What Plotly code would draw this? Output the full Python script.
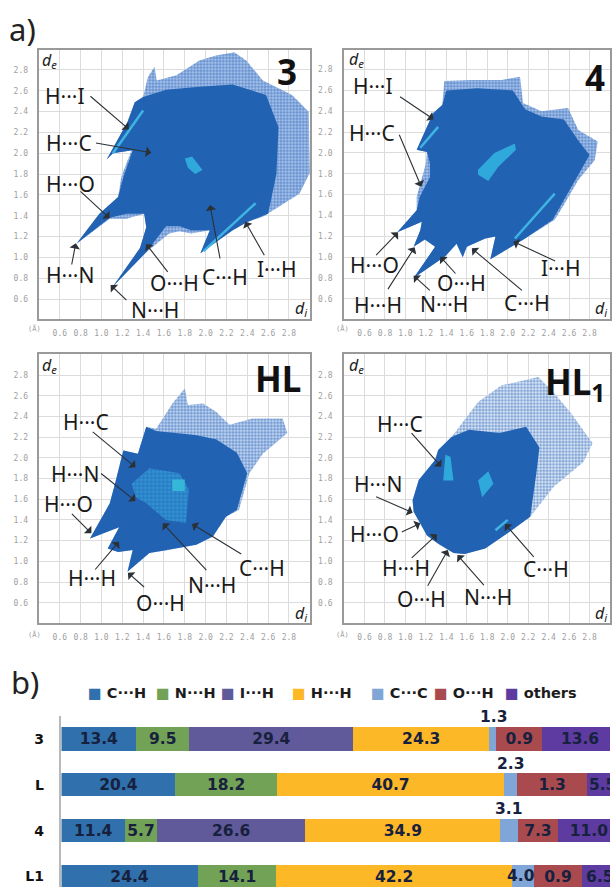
import plotly.graph_objects as go

W, H = 612, 887

# ---------- Fingerprint outlines (d_i, d_e) ----------
outline_3 = [(1.05,1.94),(1.25,2.30),(1.32,2.49),(1.40,2.54),(1.445,2.73),(1.51,2.83),(1.53,2.70),(1.72,2.75),(1.94,2.89),
             (2.10,2.94),(2.275,2.97),(2.39,2.89),(2.55,2.70),(2.69,2.63),(2.83,2.56),(2.99,2.40),(3.0,1.81),(2.90,1.61),
             (2.77,1.53),(2.55,1.39),(2.40,1.34),(2.26,1.26),(1.95,1.04),(2.04,1.26),(1.86,1.23),(1.75,1.25),(1.65,1.23),
             (1.43,1.05),(1.11,0.72),(1.37,1.09),(1.43,1.29),(1.41,1.42),(1.24,1.37),(1.08,1.37),(0.76,1.13),(0.98,1.42),
             (1.16,1.58),(1.19,1.77),(1.25,1.93),(1.29,2.03),(1.11,2.00)]
core_3 = [(1.05,1.94),(1.25,2.30),(1.32,2.49),(1.40,2.54),(1.62,2.61),(1.94,2.64),(2.26,2.66),(2.58,2.56),(2.70,2.25),
          (2.68,1.80),(2.60,1.42),(2.40,1.34),(2.26,1.26),(1.95,1.04),(2.04,1.26),(1.86,1.26),(1.75,1.30),(1.62,1.30),
          (1.43,1.05),(1.11,0.72),(1.37,1.09),(1.43,1.29),(1.41,1.42),(1.24,1.42),(1.08,1.38),(0.76,1.13),(0.98,1.42),
          (1.16,1.58),(1.21,1.77),(1.27,1.93),(1.30,2.03),(1.11,2.00)]
streaks_3 = [[(1.11,2.00),(1.40,2.41)],[(1.98,1.06),(2.48,1.52)]]
blobs_3 = [[(1.80,1.95),(1.87,1.97),(1.97,1.84),(1.90,1.80),(1.83,1.86)]]

outline_4 = [(1.11,2.03),(1.27,2.38),(1.36,2.46),(1.38,2.69),(1.65,2.70),(1.94,2.70),(2.12,2.73),(2.15,2.48),(2.33,2.40),
             (2.59,2.43),(2.69,2.22),(2.88,2.11),(2.85,1.93),(2.69,1.74),(2.56,1.52),(2.46,1.36),(2.17,1.18),(1.83,0.98),
             (1.88,1.20),(1.78,1.18),(1.60,1.10),(1.56,1.00),(1.50,1.13),(1.39,1.01),(1.08,0.80),(1.29,1.10),(1.19,1.17),
             (1.08,1.10),(1.145,1.26),(1.16,1.34),(0.92,1.24),(1.11,1.45),(1.11,1.58),(1.16,1.77),(1.20,1.90),(1.21,2.01)]
core_4 = [(1.11,2.03),(1.27,2.38),(1.36,2.46),(1.40,2.60),(1.70,2.62),(2.05,2.60),(2.17,2.42),(2.33,2.35),(2.55,2.32),
          (2.69,2.12),(2.80,1.98),(2.66,1.74),(2.54,1.52),(2.44,1.36),(2.17,1.18),(1.83,0.98),(1.88,1.20),(1.78,1.18),
          (1.60,1.10),(1.56,1.00),(1.50,1.13),(1.39,1.01),(1.08,0.80),(1.29,1.10),(1.19,1.17),(1.08,1.10),(1.145,1.26),
          (1.16,1.34),(0.92,1.24),(1.11,1.45),(1.14,1.58),(1.24,1.77),(1.24,1.90),(1.21,2.01)]
streaks_4 = [[(1.145,2.05),(1.32,2.25)],[(2.07,1.18),(2.46,1.61)]]
blobs_4 = [[(1.71,1.84),(1.87,2.00),(2.07,2.09),(2.08,2.03),(1.91,1.87),(1.81,1.73),(1.71,1.79)]]

outline_hl = [(0.89,1.22),(1.08,1.56),(1.13,1.75),(1.21,2.07),(1.35,2.04),(1.43,2.30),(1.525,2.28),(1.685,2.53),(1.80,2.67),
              (1.83,2.51),(1.975,2.525),(2.10,2.445),(2.23,2.32),(2.45,2.38),(2.74,2.38),(2.785,2.24),(2.55,2.04),(2.42,1.85),
              (2.32,1.495),(2.195,1.43),(2.07,1.24),(1.91,1.16),(1.65,1.11),(1.46,1.08),(1.25,0.90),(1.30,1.11),(1.16,1.09),
              (1.06,1.125),(1.17,1.33)]
core_hl = [(0.89,1.22),(1.08,1.56),(1.13,1.75),(1.21,2.07),(1.35,2.04),(1.43,2.30),(1.525,2.26),(1.70,2.24),(1.90,2.22),
           (2.10,2.18),(2.30,2.05),(2.40,1.85),(2.30,1.495),(2.195,1.43),(2.07,1.24),(1.91,1.16),(1.65,1.11),(1.46,1.08),
           (1.25,0.90),(1.30,1.11),(1.16,1.09),(1.06,1.125),(1.17,1.33)]
streaks_hl = []
blobs_hl = [[(1.29,1.75),(1.46,1.90),(1.75,1.85),(1.84,1.69),(1.81,1.37),(1.62,1.40),(1.43,1.56),(1.33,1.62)]]
spots_hl = [[(1.68,1.79),(1.80,1.79),(1.80,1.68),(1.68,1.68)]]

outline_hl1 = [(1.07,1.59),(1.13,1.785),(1.29,1.98),(1.32,2.075),(1.45,2.20),(1.58,2.365),(1.71,2.54),(1.94,2.70),(2.30,2.78),
               (2.46,2.62),(2.62,2.43),(2.83,2.14),(2.74,1.96),(2.45,1.72),(2.22,1.43),(2.04,1.30),(1.78,1.125),(1.58,1.07),
               (1.47,1.08),(1.32,1.17),(1.21,1.25),(1.145,1.37),(1.08,1.48)]
core_hl1 = [(1.07,1.59),(1.13,1.785),(1.29,1.98),(1.32,2.075),(1.45,2.20),(1.62,2.27),(1.92,2.24),(2.18,2.30),(2.31,2.10),
            (2.28,1.85),(2.22,1.43),(2.04,1.30),(1.78,1.125),(1.58,1.07),(1.47,1.08),(1.32,1.17),(1.21,1.25),(1.145,1.37),(1.08,1.48)]
streaks_hl1 = [[(1.88,1.30),(2.00,1.40)]]
blobs_hl1 = [[(1.39,2.03),(1.44,2.01),(1.47,1.78),(1.37,1.78)],[(1.71,1.78),(1.81,1.87),(1.86,1.75),(1.75,1.62)]]

ticks = [0.6, 0.8, 1.0, 1.2, 1.4, 1.6, 1.8, 2.0, 2.2, 2.4, 2.6, 2.8]

# ---------- Bars ----------
samples = ["3", "L", "4", "L1"]
c_h = [13.4, 20.4, 11.4, 24.4]
n_h = [9.5, 18.2, 5.7, 14.1]
i_h = [29.4, 0, 26.6, 0]
h_h = [24.3, 40.7, 34.9, 42.2]
c_c = [1.3, 2.3, 3.1, 4.0]
o_h = [8.2, 12.6, 7.3, 8.5]        # drawn width
o_h_labels = ["0.9", "1.3", "7.3", "0.9"]  # printed label
others = [13.6, 5.5, 11.0, 6.5]

series_names = ["C···H", "N···H", "I···H", "H···H", "C···C", "O···H", "others"]
series_colors = ["#2f70ad", "#72a256", "#60599a", "#fcb827", "#7fa6d6", "#a94a4e", "#5d3ba0"]

def px(x): return x / W
def py(y): return 1 - y / H

fig = go.Figure()

# Panel frames in page pixels: left, right, top, bottom, x range, y range, sparse-zone tint
panels = [
    ("", (39.5, 311, 50, 319), [0.404, 3.002], [0.408, 2.992], outline_3, core_3, streaks_3, blobs_3, [], "#a9c3ea"),
    ("2", (345, 612, 49.5, 319), [0.398, 3.0], [0.408, 2.992], outline_4, core_4, streaks_4, blobs_4, [], "#a9c3ea"),
    ("3", (39.5, 311, 354, 623), [0.404, 3.002], [0.404, 3.003], outline_hl, core_hl, streaks_hl, [], blobs_hl + spots_hl, "#c3d5f0"),
    ("4", (345, 612, 354, 623), [0.398, 3.0], [0.404, 3.003], outline_hl1, core_hl1, streaks_hl1, blobs_hl1, [], "#dfe9f7"),
]
SOLID = "#2262b3"
layout_axes = {}
for sfx, (l, r, t, b), xr, yr, outline, core, streaks, blobs, spots, tint in panels:
    xa, ya = "x" + sfx, "y" + sfx
    def poly(pts, **kw):
        fig.add_trace(go.Scatter(x=[p[0] for p in pts] + [pts[0][0]], y=[p[1] for p in pts] + [pts[0][1]],
                                 xaxis=xa, yaxis=ya, mode="lines", line=dict(width=0), fill="toself",
                                 hoverinfo="skip", showlegend=False, **kw))
    poly(outline, fillcolor="#5f8fd0", fillpattern=dict(shape=".", size=3.2, solidity=0.62, fgcolor="#2a66b8", bgcolor=tint))
    poly(core, fillcolor=SOLID)
    for s in streaks:
        fig.add_trace(go.Scatter(x=[p[0] for p in s], y=[p[1] for p in s], xaxis=xa, yaxis=ya, mode="lines",
                                 line=dict(color="#3fb3e2", width=2.5), hoverinfo="skip", showlegend=False))
    for bl in blobs:
        poly(bl, fillcolor="#2fa9db")
    for i, bl in enumerate(spots):
        if i == 0:
            poly(bl, fillcolor="#2b7cc6", fillpattern=dict(shape=".", size=4, solidity=0.4, fgcolor="#36b0d8", bgcolor="#2b7cc6"))
        else:
            poly(bl, fillcolor="#35b8d8")
    axis_common = dict(showgrid=True, gridcolor="#dcdcdc", gridwidth=1, zeroline=False, showline=True, mirror=True,
                       linecolor="#9a9a9a", linewidth=1.5, tickmode="array", tickvals=ticks,
                       ticktext=[f"{v:.1f}" for v in ticks], tickfont=dict(family="DejaVu Sans Mono", size=8, color="#a0a0a0"),
                       ticks="outside", tickcolor="rgba(0,0,0,0)", fixedrange=True)
    layout_axes["xaxis" + sfx] = dict(axis_common, domain=[px(l), min(px(r), 1)], range=xr, anchor=ya, ticklen=6)
    layout_axes["yaxis" + sfx] = dict(axis_common, domain=[py(b), py(t)], range=yr, anchor=xa, ticklen=8)

# ---------- Stacked bars ----------
BAR_L, UNIT = 61.7, 5.6
for name, color, vals in zip(series_names, series_colors, [c_h, n_h, i_h, h_h, c_c, o_h, others]):
    if name == "O···H":
        text_vals = o_h_labels
    elif name == "C···C":
        text_vals = [""] * 4
    else:
        text_vals = [f"{v:.1f}" if v else "" for v in vals]
    fig.add_trace(go.Bar(y=samples, x=vals, orientation="h", name=name, marker=dict(color=color, line=dict(width=0)),
                         text=text_vals, textposition="inside", insidetextanchor="middle", textangle=0, constraintext="none",
                         insidetextfont=dict(family="DejaVu Sans", size=15.5, color="#17213d", weight="bold"),
                         cliponaxis=True, xaxis="x5", yaxis="y5", showlegend=False, hoverinfo="skip"))

layout_axes["xaxis5"] = dict(domain=[px(BAR_L), 1], range=[0, (W - BAR_L) / UNIT], visible=False, anchor="y5", fixedrange=True)
layout_axes["yaxis5"] = dict(domain=[0, py(716)], range=[(H - 738.8) / 45.9, -0.5], type="category", categoryorder="array",
                             categoryarray=samples, anchor="x5", showline=True, linecolor="#b8b8b8", linewidth=1.5,
                             ticks="outside", ticklen=13, tickcolor="rgba(0,0,0,0)", showgrid=False, fixedrange=True,
                             tickfont=dict(family="DejaVu Sans", size=14, color="#111111", weight="bold"))

# ---------- Texts ----------
ann = []
def text(x, y, s, size=21, family="Noto Sans", color="#1a1a1a", weight=None, anchor="center", style=None):
    f = dict(family=family, size=size, color=color)
    if weight: f["weight"] = weight
    if style: f["style"] = style
    ann.append(dict(xref="paper", yref="paper", x=px(x), y=py(y), text=s, showarrow=False, font=f, xanchor=anchor, yanchor="middle"))

def arrow(x0, y0, x1, y1):
    ann.append(dict(xref="paper", yref="paper", x=px(x1), y=py(y1), ax=x0 - x1, ay=y0 - y1, axref="pixel", ayref="pixel", text="",
                    showarrow=True, arrowhead=1, arrowsize=1.6, arrowwidth=1.1, arrowcolor="#2b3136", standoff=0))

def labels(ox, oy, items):
    for s, lx, ly, ax0, ay0, ax1, ay1 in items:
        text(ox + lx / 3, oy + ly / 3, s)
        arrow(ox + ax0 / 3, oy + ay0 / 3, ox + ax1 / 3, oy + ay1 / 3)

labels(0, 0, [
    ("H···I", 195, 287, 268, 285, 388, 388), ("H···C", 207, 430, 285, 428, 455, 458),
    ("H···O", 212, 552, 238, 570, 330, 655), ("H···N", 210, 826, 215, 798, 228, 730),
    ("O···H", 525, 850, 508, 820, 440, 732), ("N···H", 466, 930, 385, 905, 333, 855),
    ("C···H", 678, 830, 663, 780, 632, 615), ("I···H", 833, 806, 798, 770, 738, 665)])
labels(340, 30, [
    ("H···I", 103, 168, 180, 197, 285, 268), ("H···C", 100, 310, 180, 310, 248, 470),
    ("H···O", 107, 705, 108, 680, 178, 607), ("H···H", 118, 825, 145, 782, 228, 652),
    ("N···H", 315, 822, 278, 785, 225, 737), ("O···H", 368, 760, 355, 735, 305, 680),
    ("C···H", 567, 820, 555, 785, 400, 655), ("I···H", 670, 715, 655, 695, 525, 635)])
labels(0, 340, [
    ("H···C", 258, 247, 275, 272, 408, 382), ("H···N", 225, 403, 300, 397, 408, 483),
    ("H···O", 207, 493, 212, 517, 275, 580), ("H···H", 277, 713, 283, 693, 358, 605),
    ("O···H", 482, 790, 438, 745, 385, 698), ("N···H", 637, 735, 625, 695, 490, 550),
    ("C···H", 790, 685, 730, 645, 578, 552)])
labels(340, 340, [
    ("H···C", 183, 252, 215, 275, 308, 380), ("H···N", 118, 433, 108, 468, 222, 518),
    ("H···O", 107, 583, 185, 578, 245, 550), ("H···H", 203, 683, 215, 658, 295, 583),
    ("O···H", 250, 777, 265, 742, 328, 630), ("N···H", 448, 772, 440, 740, 357, 645),
    ("C···H", 623, 687, 590, 655, 500, 552)])

for x, y, s in [(288, 72, "3"), (597, 77, "4"), (279, 378, "HL"), (577, 383, "HL<sub>1</sub>")]:
    text(x, y, s, size=35, weight="bold", color="#111111")
for x, y in [(50, 61), (358, 60), (50, 365), (358, 365)]:
    text(x, y, "d<sub>e</sub>", size=16, style="italic", color="#222222")
for x, y in [(302, 308), (603, 308), (302, 613), (603, 613)]:
    text(x, y, "d<sub>i</sub>", size=16, style="italic", color="#222222")
for x, y in [(35, 329), (344, 329), (35, 634), (344, 634)]:
    text(x, y, "(Å)", size=7, family="DejaVu Sans Mono", color="#a0a0a0")

text(23, 29, "a)", size=31, color="#222222")
text(25, 682, "b)", size=31, color="#222222")

# legend row
legend_x = [86, 155, 220, 291, 370, 433, 505]
for x, name, color in zip(legend_x, series_names, series_colors):
    text(x, 693, f"<span style='color:{color}'>■</span> {name}", size=14.5, family="DejaVu Sans", weight="bold", color="#1c1c1c", anchor="left")

# C···C values placed outside / across their thin segments
for x, y, s in zip([495, 511.7, 509.8, 523], [716.7, 764, 809.3, 876], ["1.3", "2.3", "3.1", "4.0"]):
    text(x, y, s, size=15.5, family="DejaVu Sans", weight="bold", color="#17213d")

fig.update_layout(width=W, height=H, margin=dict(l=0, r=0, t=0, b=0), paper_bgcolor="white", plot_bgcolor="white",
                  barmode="stack", bargap=0.49, showlegend=False, annotations=ann, **layout_axes)
fig.write_html("out.html", config=dict(displayModeBar=False),
               post_script="document.body.style.margin='0';document.documentElement.style.overflow='hidden';")
